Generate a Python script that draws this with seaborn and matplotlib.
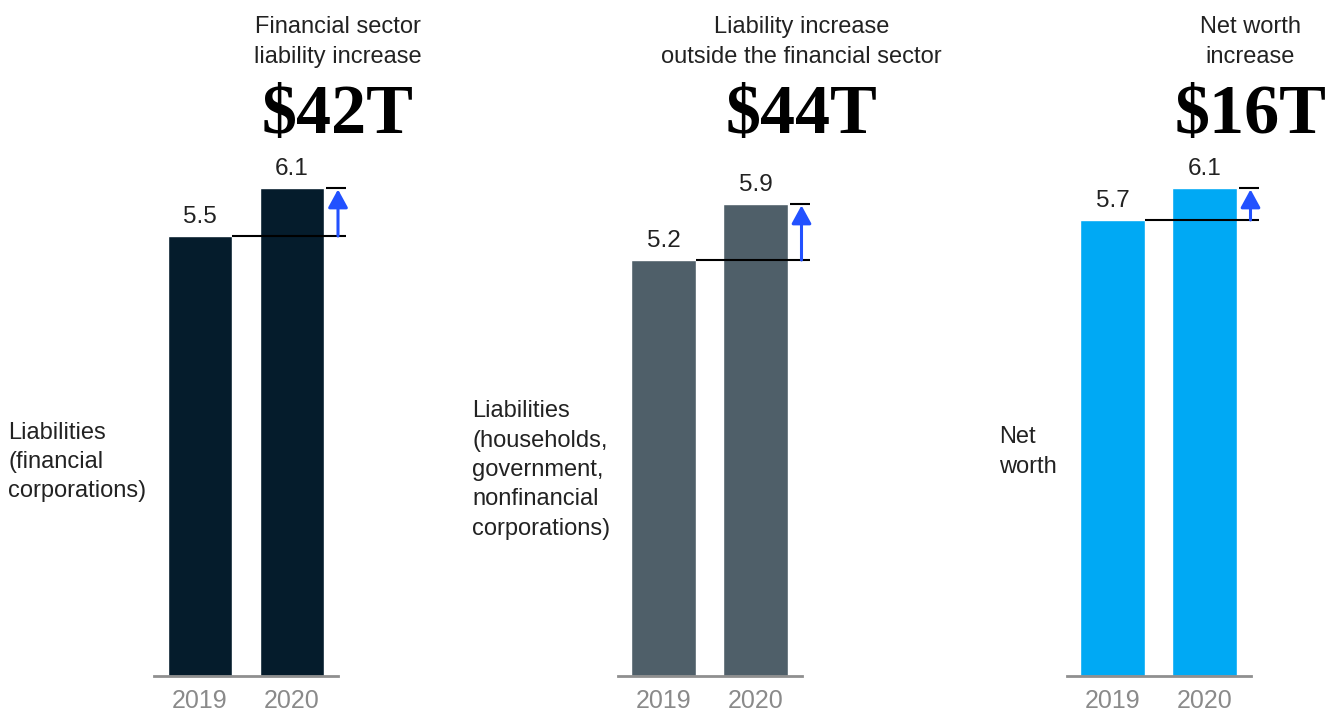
import matplotlib
matplotlib.use("Agg")
import matplotlib.pyplot as plt
import matplotlib.transforms as mtransforms
import seaborn as sns
import pandas as pd

years = ["2019", "2020"]
fin_liab = [5.5, 6.1]
nonfin_liab = [5.2, 5.9]
net_worth = [5.7, 6.1]
series = [fin_liab, nonfin_liab, net_worth]
titles = [["Financial sector", "liability increase"],
          ["Liability increase", "outside the financial sector"],
          ["Net worth", "increase"]]
big_numbers = ["$42T", "$44T", "$16T"]
side_labels = ["Liabilities\n(financial\ncorporations)",
               "Liabilities\n(households,\ngovernment,\nnonfinancial\ncorporations)",
               "Net\nworth"]
colors = ["#051C2C", "#4F5F69", "#00A9F4"]

sns.set_theme(style="white")
plt.rcParams["font.family"] = ["Liberation Sans", "DejaVu Sans"]

W, H = 1325, 715
fig = plt.figure(figsize=(W / 100, H / 100), dpi=100)

ax_lefts = [154, 617.5, 1066.5]
ax_w = 184
base_px = 676
unit_px = 80
ymax = 6.5
side_pos = [(8, 462), (472, 470), (999, 452)]
txt_col = "#222222"

for i in range(3):
    left = ax_lefts[i]
    ax = fig.add_axes([left / W, (H - base_px) / H, ax_w / W, ymax * unit_px / H])
    df = pd.DataFrame({"year": years, "value": series[i]})
    sns.barplot(data=df, x="year", y="value", color=colors[i], width=0.7,
                saturation=1, ax=ax, errorbar=None)
    ax.set_xlim(-0.5, 1.5)
    ax.set_ylim(0, ymax)
    ax.set_xlabel("")
    ax.set_ylabel("")
    ax.set_yticks([])
    for s in ["top", "right", "left"]:
        ax.spines[s].set_visible(False)
    ax.spines["bottom"].set_color("#8f8f8f")
    ax.spines["bottom"].set_linewidth(2)
    ax.tick_params(axis="x", length=0, pad=9, labelsize=18, labelcolor="#8a8a8a")
    ax.bar_label(ax.containers[0], labels=[f"{v:.1f}" for v in series[i]],
                 padding=6, fontsize=17.5, color=txt_col)

    v0, v1 = series[i]
    ax.plot([0.35, 1.59], [v0, v0], color="black", lw=1.5, clip_on=False,
            solid_capstyle="butt")
    ax.plot([1.37, 1.59], [v1, v1], color="black", lw=1.5, clip_on=False,
            solid_capstyle="butt")
    ax.annotate("", xy=(1.5, v1), xytext=(1.5, v0),
                arrowprops=dict(arrowstyle="-|>,head_length=1.1,head_width=0.6",
                                color="#2251FF", lw=2.2, mutation_scale=10,
                                shrinkA=0, shrinkB=1),
                annotation_clip=False)

    tr = mtransforms.blended_transform_factory(ax.transData, fig.transFigure)
    ax.text(1.5, 1 - 27 / H, titles[i][0], transform=tr, ha="center", va="center",
            fontsize=17, color=txt_col)
    ax.text(1.5, 1 - 57 / H, titles[i][1], transform=tr, ha="center", va="center",
            fontsize=17, color=txt_col)
    ax.text(1.5, 1 - 133 / H, big_numbers[i], transform=tr, ha="center",
            va="baseline", fontsize=50.5, fontweight="bold",
            family=["Liberation Serif", "DejaVu Serif"], color="black")

    sx, sy = side_pos[i]
    fig.text(sx / W, 1 - sy / H, side_labels[i], ha="left", va="center",
             fontsize=17, color=txt_col, linespacing=1.43)

fig.savefig("out.png", dpi=100, facecolor="white")
